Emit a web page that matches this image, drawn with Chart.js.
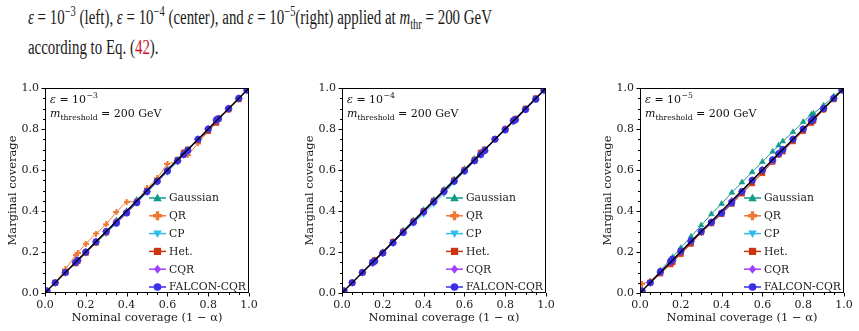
<!DOCTYPE html>
<html>
<head>
<meta charset="utf-8">
<script src="https://cdn.jsdelivr.net/npm/chart.js@4.4.0/dist/chart.umd.min.js"></script>
<style>
body { margin: 0; width: 859px; height: 331px; overflow: hidden; background: #fff; position: relative; }
#cap { position: absolute; left: 28px; top: 2px; font-family: "Liberation Serif", serif; font-size: 20px; line-height: 30px; color: #1a1a1a; white-space: nowrap; transform-origin: 0 0; }
#cap sup, #cap sub { font-size: 70%; line-height: 0; }
#cap .ref { color: #c8102e; }
.panel { position: absolute; top: 60px; width: 264px; height: 271px; }
</style>
</head>
<body>
<div id="cap">
  <div id="line1"><span id="l1"><i>ε</i> = 10<sup>−3</sup> (left), <i>ε</i> = 10<sup>−4</sup> (center), and <i>ε</i> = 10<sup>−5</sup>(right) applied at <i>m</i><sub>thr</sub> = 200 GeV</span></div>
  <div>according to Eq. (<span class="ref">42</span>).</div>
</div>
<div class="panel" style="left:0px"><canvas id="c1" width="264" height="271"></canvas></div>
<div class="panel" style="left:297px"><canvas id="c2" width="264" height="271"></canvas></div>
<div class="panel" style="left:595px"><canvas id="c3" width="264" height="271"></canvas></div>
<script>
// nominal coverage levels (x values shared by every panel)
const nominal = [0.01, 0.05, 0.10, 0.15, 0.16, 0.20, 0.25, 0.30, 0.35, 0.40, 0.45, 0.50,
                 0.55, 0.60, 0.65, 0.68, 0.70, 0.75, 0.80, 0.84, 0.85, 0.90, 0.95, 0.99];
const ideal = [0, 1];
const tickValues = [0, 0.2, 0.4, 0.6, 0.8, 1.0];
const labels = ['Gaussian', 'QR', 'CP', 'Het.', 'CQR', 'FALCON-CQR'];

// eps = 1e-3
const gauss_e3  = [0.01,0.05,0.10,0.15,0.16,0.20,0.25,0.30,0.355,0.40,0.455,0.50,0.55,0.605,0.65,0.685,0.70,0.75,0.80,0.84,0.85,0.90,0.95,0.99];
const qr_e3     = [0.01,0.05,0.115,0.185,0.195,0.24,0.29,0.335,0.395,0.445,0.445,0.51,0.56,0.63,0.64,0.68,0.673,0.73,0.79,0.835,0.855,0.895,0.945,0.99];
const cp_e3     = [0.01,0.05,0.10,0.145,0.155,0.195,0.245,0.29,0.34,0.39,0.44,0.49,0.54,0.59,0.64,0.675,0.695,0.745,0.795,0.835,0.845,0.895,0.945,0.99];
const het_e3    = [0.01,0.05,0.10,0.145,0.155,0.195,0.245,0.295,0.345,0.39,0.445,0.495,0.545,0.595,0.65,0.685,0.70,0.745,0.79,0.83,0.85,0.895,0.945,0.99];
const cqr_e3    = [0.01,0.05,0.10,0.15,0.16,0.20,0.25,0.30,0.345,0.395,0.445,0.495,0.545,0.595,0.645,0.675,0.695,0.75,0.80,0.84,0.85,0.90,0.95,0.99];
const falcon_e3 = [0.01,0.05,0.10,0.15,0.16,0.20,0.25,0.30,0.34,0.39,0.44,0.495,0.545,0.595,0.645,0.675,0.695,0.75,0.80,0.845,0.85,0.90,0.95,0.99];

// eps = 1e-4
const gauss_e4  = [0.01,0.05,0.10,0.15,0.16,0.20,0.25,0.305,0.355,0.405,0.455,0.505,0.555,0.605,0.655,0.685,0.70,0.75,0.80,0.84,0.85,0.90,0.95,0.99];
const qr_e4     = [0.01,0.05,0.10,0.15,0.16,0.20,0.245,0.295,0.345,0.395,0.445,0.495,0.545,0.595,0.645,0.68,0.70,0.75,0.795,0.835,0.845,0.895,0.945,0.99];
const cp_e4     = [0.01,0.05,0.10,0.15,0.155,0.195,0.245,0.295,0.34,0.385,0.435,0.485,0.54,0.595,0.645,0.675,0.695,0.75,0.795,0.835,0.845,0.895,0.945,0.99];
const het_e4    = [0.01,0.05,0.10,0.15,0.16,0.195,0.25,0.30,0.35,0.40,0.45,0.50,0.55,0.60,0.65,0.685,0.70,0.75,0.80,0.84,0.85,0.90,0.95,0.99];
const cqr_e4    = [0.01,0.05,0.10,0.145,0.155,0.195,0.245,0.295,0.345,0.395,0.445,0.495,0.545,0.595,0.645,0.675,0.695,0.75,0.80,0.84,0.845,0.895,0.945,0.99];
const falcon_e4 = [0.01,0.05,0.10,0.15,0.155,0.195,0.245,0.295,0.345,0.395,0.445,0.495,0.545,0.595,0.645,0.675,0.695,0.75,0.795,0.84,0.845,0.895,0.945,0.99];

// eps = 1e-5
const gauss_e5  = [0.01,0.05,0.11,0.165,0.175,0.22,0.275,0.33,0.385,0.435,0.49,0.54,0.59,0.64,0.69,0.72,0.74,0.785,0.835,0.87,0.875,0.915,0.96,0.99];
const qr_e5     = [0.045,0.06,0.10,0.145,0.155,0.195,0.245,0.30,0.345,0.39,0.44,0.49,0.54,0.59,0.64,0.675,0.695,0.745,0.795,0.835,0.845,0.895,0.945,0.99];
const cp_e5     = [0.01,0.05,0.10,0.15,0.16,0.20,0.25,0.295,0.34,0.39,0.44,0.495,0.545,0.595,0.645,0.675,0.695,0.75,0.80,0.84,0.85,0.90,0.95,0.99];
const het_e5    = [0.01,0.05,0.095,0.14,0.15,0.19,0.24,0.295,0.34,0.385,0.435,0.485,0.535,0.585,0.64,0.675,0.69,0.74,0.79,0.83,0.84,0.895,0.945,0.99];
const cqr_e5    = [0.01,0.05,0.10,0.15,0.16,0.20,0.25,0.30,0.345,0.39,0.45,0.495,0.55,0.60,0.645,0.68,0.70,0.75,0.80,0.84,0.85,0.90,0.95,0.99];
const falcon_e5 = [0.01,0.05,0.105,0.155,0.165,0.205,0.255,0.30,0.345,0.39,0.44,0.495,0.55,0.60,0.65,0.68,0.70,0.75,0.80,0.84,0.85,0.90,0.95,0.99];

const FONT = '"DejaVu Serif", serif';
const colors = ['#129c8c', '#ee7733', '#33bbee', '#cc3311', '#a040ff', '#3b2fe6'];
const markers = ['tri', 'plus', 'tridown', 'square', 'diamond', 'circle'];

// fit the caption to the reference width
const l1 = document.getElementById('l1');
document.getElementById('cap').style.transform = 'scaleX(' + (464 / l1.getBoundingClientRect().width) + ')';

function plusImage(size, color) {
    const c = document.createElement('canvas');
    c.width = size; c.height = size;
    const g = c.getContext('2d');
    g.fillStyle = color;
    const t = 2;
    const o = Math.floor((size - t) / 2);
    g.fillRect(o, 0, t, size);
    g.fillRect(0, o, size, t);
    return c;
}

function drawMarker(ctx, kind, x, y, r, color) {
    ctx.save();
    ctx.fillStyle = color;
    ctx.beginPath();
    if (kind === 'tri') {
        ctx.moveTo(x, y - r); ctx.lineTo(x + r * 0.95, y + r * 0.7); ctx.lineTo(x - r * 0.95, y + r * 0.7);
    } else if (kind === 'tridown') {
        ctx.moveTo(x, y + r); ctx.lineTo(x + r * 0.95, y - r * 0.7); ctx.lineTo(x - r * 0.95, y - r * 0.7);
    } else if (kind === 'square') {
        ctx.rect(x - r * 0.8, y - r * 0.8, r * 1.6, r * 1.6);
    } else if (kind === 'diamond') {
        ctx.moveTo(x, y - r); ctx.lineTo(x + r * 0.8, y); ctx.lineTo(x, y + r); ctx.lineTo(x - r * 0.8, y);
    } else if (kind === 'circle') {
        ctx.arc(x, y, r * 0.85, 0, Math.PI * 2);
    } else if (kind === 'plus') {
        const t = r * 0.38;
        ctx.rect(x - t, y - r, 2 * t, 2 * r);
        ctx.rect(x - r, y - t, 2 * r, 2 * t);
    }
    ctx.closePath();
    ctx.fill();
    ctx.restore();
}

function pointOpts(i) {
    const c = colors[i];
    switch (markers[i]) {
        case 'tri': return { pointStyle: 'triangle', pointRadius: 3.3 };
        case 'plus': return { pointStyle: plusImage(6, c), pointRadius: 3 };
        case 'tridown': return { pointStyle: 'triangle', rotation: 180, pointRadius: 3.3 };
        case 'square': return { pointStyle: 'rect', pointRadius: 3.6 };
        case 'diamond': return { pointStyle: 'rectRot', pointRadius: 3.6 };
        default: return { pointStyle: 'circle', pointRadius: 3.2 };
    }
}

function makePanel(id, expText, series) {
    const datasets = series.map((vals, i) => Object.assign({
        label: labels[i],
        data: nominal.map((x, k) => ({ x: x, y: vals[k] })),
        borderColor: colors[i],
        backgroundColor: colors[i],
        pointBackgroundColor: colors[i],
        pointBorderColor: colors[i],
        pointBorderWidth: 0.6,
        borderWidth: 1,
        order: 10 - i
    }, pointOpts(i)));
    datasets.push({
        label: 'ideal',
        data: ideal.map(v => ({ x: v, y: v })),
        borderColor: '#000',
        borderWidth: 1.3,
        pointRadius: 0,
        order: 0
    });

    const decor = {
        id: 'decor',
        afterDatasetsDraw(chart) {
            const { ctx, chartArea: a, scales: { x, y } } = chart;
            ctx.save();
            ctx.strokeStyle = '#000';
            ctx.lineWidth = 1;
            ctx.strokeRect(a.left + 0.5, a.top + 0.5, a.right - a.left - 1, a.bottom - a.top - 1);
            ctx.beginPath();
            for (let i = 0; i <= 20; i++) {
                const v = i / 20;
                const len = i % 4 === 0 ? 3.5 : 2;
                const px = Math.round(x.getPixelForValue(v)) + 0.5;
                const py = Math.round(y.getPixelForValue(v)) + 0.5;
                ctx.moveTo(px, a.bottom); ctx.lineTo(px, a.bottom + len);
                ctx.moveTo(a.left, py); ctx.lineTo(a.left - len, py);
            }
            ctx.stroke();

            // annotation
            ctx.fillStyle = '#111';
            ctx.textBaseline = 'alphabetic';
            let tx = a.left + 5, ty = a.top + 15;
            ctx.font = 'italic 11px ' + FONT;
            ctx.fillText('ε', tx, ty); tx += ctx.measureText('ε').width;
            ctx.font = '11px ' + FONT;
            ctx.fillText(' = 10', tx, ty); tx += ctx.measureText(' = 10').width + 0.5;
            ctx.font = '7.7px ' + FONT;
            ctx.fillText(expText, tx, ty - 5);
            tx = a.left + 5; ty = a.top + 29;
            ctx.font = 'italic 11px ' + FONT;
            ctx.fillText('m', tx, ty); tx += ctx.measureText('m').width;
            ctx.font = '7.7px ' + FONT;
            ctx.fillText('threshold', tx, ty + 2.5); tx += ctx.measureText('threshold').width;
            ctx.font = '11px ' + FONT;
            ctx.fillText(' = 200 GeV', tx, ty);

            // legend
            const lx = a.left + 104, ly = a.top + 110, dy = 17.8;
            ctx.textBaseline = 'middle';
            ctx.font = '10.8px ' + FONT;
            labels.forEach((lab, i) => {
                const yy = ly + i * dy;
                ctx.strokeStyle = colors[i];
                ctx.lineWidth = 1.5;
                ctx.beginPath();
                ctx.moveTo(lx, yy); ctx.lineTo(lx + 17, yy);
                ctx.stroke();
                drawMarker(ctx, markers[i], lx + 8.5, yy, 4.5, colors[i]);
                ctx.fillStyle = '#1a1a1a';
                ctx.fillText(lab, lx + 20, yy + 0.5);
            });
            ctx.restore();
        }
    };

    return new Chart(document.getElementById(id), {
        type: 'line',
        data: { datasets: datasets },
        options: {
            responsive: false,
            animation: false,
            events: [],
            layout: { padding: { left: 0, top: 28, right: 15, bottom: 0 } },
            plugins: { legend: { display: false }, tooltip: { enabled: false } },
            scales: {
                x: {
                    type: 'linear', min: 0, max: 1,
                    afterBuildTicks: s => { s.ticks = tickValues.map(v => ({ value: v })); },
                    afterFit: s => { s.height = 38; },
                    grid: { display: false, drawTicks: false },
                    border: { display: false },
                    ticks: { padding: 6, color: '#1a1a1a', maxRotation: 0, font: { family: FONT, size: 11 },
                             callback: v => v.toFixed(1) },
                    title: { display: true, text: 'Nominal coverage (1 − α)', color: '#1a1a1a',
                             font: { family: FONT, size: 11.5 }, padding: { top: 0, bottom: 6 } }
                },
                y: {
                    type: 'linear', min: 0, max: 1,
                    afterBuildTicks: s => { s.ticks = tickValues.map(v => ({ value: v })); },
                    afterFit: s => { s.width = 45; },
                    grid: { display: false, drawTicks: false },
                    border: { display: false },
                    ticks: { padding: 6, color: '#1a1a1a', font: { family: FONT, size: 11 },
                             callback: v => v.toFixed(1) },
                    title: { display: true, text: 'Marginal coverage', color: '#1a1a1a',
                             font: { family: FONT, size: 11.5 }, padding: { top: 6, bottom: 0 } }
                }
            }
        },
        plugins: [decor]
    });
}

makePanel('c1', '−3', [gauss_e3, qr_e3, cp_e3, het_e3, cqr_e3, falcon_e3]);
makePanel('c2', '−4', [gauss_e4, qr_e4, cp_e4, het_e4, cqr_e4, falcon_e4]);
makePanel('c3', '−5', [gauss_e5, qr_e5, cp_e5, het_e5, cqr_e5, falcon_e5]);
</script>
</body>
</html>
